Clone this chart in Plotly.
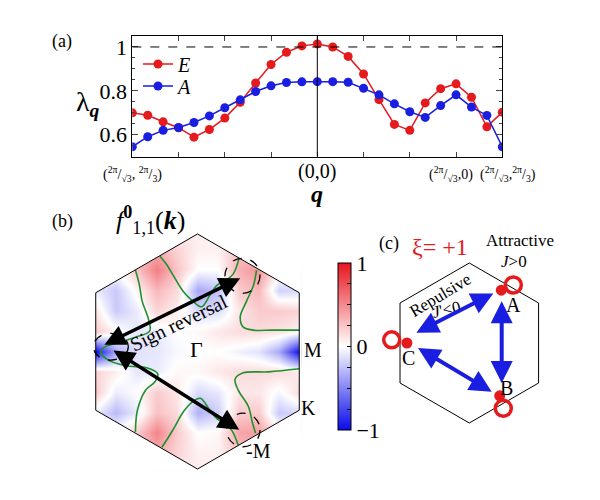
import plotly.graph_objects as go

## PANEL (a): eigenvalues along the q path ##

q_index = list(range(25))
lam_E = [0.700, 0.689, 0.659, 0.632, 0.589, 0.624, 0.676, 0.748, 0.836, 0.920, 0.976, 1.005, 1.014,
         1.000, 0.957, 0.877, 0.760, 0.647, 0.620, 0.745, 0.810, 0.832, 0.771, 0.636, 0.703]
lam_A = [0.545, 0.591, 0.620, 0.633, 0.656, 0.686, 0.723, 0.759, 0.797, 0.823, 0.838, 0.841, 0.842,
         0.842, 0.839, 0.812, 0.782, 0.741, 0.705, 0.679, 0.733, 0.782, 0.726, 0.688, 0.545]
q_tick_pos = [0, 12, 21, 24]
q_tick_text = ["(<sup>2π</sup>/<sub>√3</sub>, <sup>2π</sup>/<sub>3</sub>)",
               "(0,0)",
               "(<sup>2π</sup>/<sub>√3</sub>,0)",
               "(<sup>2π</sup>/<sub>√3</sub>,<sup>2π</sup>/<sub>3</sub>)"]

## PANEL (b): gap function f^0_11(k) on the BZ ##

kx_grid = [-1.0, -0.8, -0.6, -0.4, -0.2, 0.0, 0.2, 0.4, 0.6, 0.8, 1.0]
ky_grid = [-1.2, -1.0, -0.8, -0.6, -0.4, -0.2, 0.0, 0.2, 0.4, 0.6, 0.8, 1.0, 1.2]
f_grid = [
    [0.00, 0.00, 0.00, 0.05, 0.08, 0.08, 0.08, 0.05, 0.00, 0.00, 0.00],
    [0.00, 0.08, 0.22, 0.35, 0.18, 0.06, 0.06, 0.25, 0.30, 0.15, 0.00],
    [-0.08, 0.00, 0.22, 0.52, 0.22, 0.00, 0.03, 0.38, 0.42, 0.08, -0.08],
    [-0.08, -0.28, -0.08, 0.26, 0.15, -0.32, -0.20, 0.22, 0.22, -0.22, -0.15],
    [0.22, -0.08, 0.00, 0.22, 0.10, -0.15, -0.10, 0.10, 0.10, -0.04, 0.15],
    [0.18, 0.07, -0.10, -0.08, 0.03, 0.03, 0.10, 0.15, 0.15, 0.15, 0.08],
    [-1.00, -0.35, -0.12, -0.10, -0.03, 0.00, 0.00, -0.06, -0.12, -0.35, -1.00],
    [0.22, 0.04, -0.10, -0.08, 0.00, 0.03, 0.10, 0.15, 0.15, 0.12, 0.04],
    [0.10, -0.22, -0.08, 0.18, 0.07, -0.15, -0.15, 0.10, 0.22, 0.22, 0.18],
    [-0.08, -0.22, 0.04, 0.30, 0.15, -0.36, -0.26, 0.22, 0.30, -0.18, -0.15],
    [-0.08, 0.00, 0.25, 0.55, 0.25, 0.00, 0.00, 0.34, 0.45, 0.08, -0.08],
    [0.00, 0.08, 0.22, 0.35, 0.18, 0.06, 0.06, 0.25, 0.30, 0.15, 0.00],
    [0.00, 0.00, 0.00, 0.05, 0.08, 0.08, 0.08, 0.05, 0.00, 0.00, 0.00],
]

# Fermi surface (green), segments split by None
fs_x = [-0.61, -0.57, -0.545, -0.48, -0.47, -0.61, -0.77, -0.90, -0.95, -0.90, -0.71, -0.50, -0.39, -0.42, -0.51, -0.59, -0.61, None,
        -0.37, -0.30, -0.24, -0.14, -0.04, 0.04, 0.12, 0.19, 0.28, 0.35, 0.41, None,
        -0.35, -0.29, -0.23, -0.13, -0.03, 0.03, 0.11, 0.19, 0.28, 0.34, 0.40, None,
        0.58, 0.55, 0.48, 0.42, 0.45, 0.55, 0.73, 1.00, None,
        0.57, 0.54, 0.50, 0.40, 0.37, 0.45, 0.70, 1.00]
fs_y = [0.80, 0.65, 0.50, 0.31, 0.20, 0.14, 0.09, 0.05, 0.00, -0.07, -0.14, -0.16, -0.22, -0.30, -0.38, -0.575, -0.79, None,
        0.935, 0.85, 0.75, 0.59, 0.49, 0.44, 0.55, 0.65, 0.70, 0.76, 0.92, None,
        -0.94, -0.85, -0.75, -0.58, -0.48, -0.46, -0.56, -0.66, -0.72, -0.78, -0.92, None,
        0.80, 0.65, 0.49, 0.34, 0.24, 0.21, 0.21, 0.21, None,
        -0.80, -0.70, -0.54, -0.38, -0.27, -0.21, -0.20, -0.17]

## PANEL (c): sublattice diagram ##

node_x = [0.40, 0.38, -0.78]
node_y = [0.66, -0.66, 0.0]
node_names = ["A", "B", "C"]

SERIF = "Liberation Serif"
RED = "rgb(228,26,28)"
BLUE = "rgb(25,30,225)"

fig = go.Figure()

fig.add_trace(go.Scatter(x=q_index, y=lam_E, name="<i>E</i>", mode="lines+markers", legend="legend",
                         line=dict(color=RED, width=1.5), marker=dict(color=RED, size=9)))
fig.add_trace(go.Scatter(x=q_index, y=lam_A, name="<i>A</i>", mode="lines+markers", legend="legend2",
                         line=dict(color=BLUE, width=1.5), marker=dict(color=BLUE, size=9)))

cscale = [[0, "rgb(10,10,235)"], [0.5, "rgb(255,255,255)"], [1, "rgb(232,20,30)"]]
fig.add_trace(go.Heatmap(x=kx_grid, y=ky_grid, z=f_grid, zmin=-1, zmax=1, zsmooth="best",
                         colorscale=cscale, xaxis="x2", yaxis="y2", showlegend=False,
                         colorbar=dict(x=328 / 600, xanchor="left", y=1 - 346.5 / 500, yanchor="middle",
                                       len=187 / 500, thickness=13, outlinewidth=1, outlinecolor="black",
                                       tickvals=[-1, -0.75, -0.5, -0.25, 0, 0.25, 0.5, 0.75, 1],
                                       ticktext=["−1", "", "", "", "0", "", "", "", "1"],
                                       ticks="inside", ticklen=4, tickcolor="black",
                                       tickfont=dict(family=SERIF, size=22, color="black"))))
fig.add_trace(go.Scatter(x=fs_x, y=fs_y, mode="lines", xaxis="x2", yaxis="y2", showlegend=False,
                         line=dict(color="rgb(30,145,45)", width=1.6, shape="spline")))

fig.add_trace(go.Scatter(x=node_x, y=node_y, mode="markers", xaxis="x3", yaxis="y3", showlegend=False,
                         marker=dict(color=RED, size=11)))

shapes = []
# (a) dashed line at lambda=1 and vertical line at q=0
shapes.append(dict(type="line", xref="x", yref="y", x0=0, x1=24, y0=1, y1=1,
                   line=dict(color="black", width=1, dash="dash")))
shapes.append(dict(type="line", xref="x", yref="y", x0=12, x1=12, y0=0.5, y1=1.05,
                   line=dict(color="black", width=1)))
# (b) white masks outside the hexagon, hexagon outline, dashed circles
h = 0.57735
for s in (-1, 1):
    shapes.append(dict(type="path", xref="x2", yref="y2", layer="above", fillcolor="white",
                       line=dict(width=0),
                       path=f"M {s*1.3},1.4 L 0,1.4 L 0,{2*h} L {s},{h} L {s},{-h} L 0,{-2*h} L 0,-1.4 L {s*1.3},-1.4 Z"))
shapes.append(dict(type="path", xref="x2", yref="y2", layer="above", line=dict(color="black", width=1),
                   path=f"M -1,{h} L 0,{2*h} L 1,{h} L 1,{-h} L 0,{-2*h} L -1,{-h} Z"))
for cx, cy, rx, ry in [(-0.852, 0.047, 0.172, 0.131), (0.442, 0.744, 0.172, 0.172), (0.45, -0.771, 0.165, 0.165)]:
    shapes.append(dict(type="circle", xref="x2", yref="y2", layer="above",
                       x0=cx - rx, x1=cx + rx, y0=cy - ry, y1=cy + ry,
                       line=dict(color="black", width=1.3, dash="dash")))
# (c) hexagon and red loops
shapes.append(dict(type="path", xref="x3", yref="y3", line=dict(color="black", width=1),
                   path="M 0,1 L 0.866,0.5 L 0.866,-0.5 L 0,-1 L -0.866,-0.5 L -0.866,0.5 Z"))
for cx, cy in [(0.55, 0.725), (0.425, -0.816), (-0.97, 0.04)]:
    shapes.append(dict(type="circle", xref="x3", yref="y3", x0=cx - 0.1, x1=cx + 0.1,
                       y0=cy - 0.1, y1=cy + 0.1, line=dict(color=RED, width=3.5)))

ann = []


def txt(x, y, text, size=18, xref="paper", yref="paper", color="black", angle=0, xshift=0):
    if xref == "paper":
        x = x / 600
    if yref == "paper":
        y = 1 - y / 500
    ann.append(dict(x=x, y=y, xref=xref, yref=yref, text=text, showarrow=False, textangle=angle,
                    xanchor="center", yanchor="middle", xshift=xshift,
                    font=dict(family=SERIF, size=size, color=color)))


# (a) labels (paper positions given in pixels)
txt(62, 42, "(a)", 18)
txt(88, 104, "λ<sub><b><i>q</i></b></sub>", 28)
for pos, lab, dx in zip(q_tick_pos, q_tick_text, [0, 0, -5, 6]):
    if lab == "(0,0)":
        txt(pos, 171, lab, 20, xref="x")
    else:
        txt(pos, 174, lab, 14, xref="x", xshift=dx)
txt(12, 194, "<b><i>q</i></b>", 24, xref="x")

# (b) labels
txt(62, 222, "(b)", 18)
txt(150, 220, "<i>f</i><sup><b>0</b></sup><sub>1,1</sub>(<b><i>k</i></b>)", 26)
txt(-0.01, 0.015, "Γ", 22, xref="x2", yref="y2")
txt(-0.19, 0.28, "Sign reversal", 20, xref="x2", yref="y2", angle=-25.7)
txt(313, 350, "M", 20)
txt(308, 408, "K", 20)
txt(258, 451, "-M", 20)
for (x0, y0), (x1, y1) in [((-0.93, 0.06), (0.42, 0.72)), ((-0.84, 0.02), (0.41, -0.77))]:
    ann.append(dict(x=x1, y=y1, ax=x0, ay=y0, xref="x2", yref="y2", axref="x2", ayref="y2",
                    showarrow=True, arrowhead=2, arrowside="end+start", arrowsize=1.2,
                    arrowwidth=3.5, arrowcolor="black", text=""))

# (c) labels
txt(389, 243, "(c)", 18)
txt(440, 247, "ξ= +1", 24, color=RED)
txt(520, 240, "Attractive", 17)
txt(514, 261, "<i>J</i>>0", 17)
txt(-0.37, 0.6, "Repulsive", 17, xref="x3", yref="y3", angle=-31)
txt(-0.28, 0.42, "<i>J</i>'<0", 17, xref="x3", yref="y3", angle=-12)
for (nx, ny), nm in zip([(0.55, 0.475), (0.47, -0.56), (-0.76, -0.19)], node_names):
    txt(nx, ny, nm, 20, xref="x3", yref="y3")
for (x0, y0), (x1, y1) in [((0.405, 0.54), (0.405, -0.50)), ((-0.68, 0.12), (0.30, 0.62)),
                           ((-0.66, -0.05), (0.28, -0.61))]:
    ann.append(dict(x=x1, y=y1, ax=x0, ay=y0, xref="x3", yref="y3", axref="x3", ayref="y3",
                    showarrow=True, arrowhead=2, arrowside="end+start", arrowsize=1.1,
                    arrowwidth=4, arrowcolor=BLUE, text=""))

leg = dict(xanchor="left", yanchor="middle", bgcolor="rgba(0,0,0,0)",
           font=dict(family=SERIF, size=20), itemwidth=30)

fig.update_layout(
    width=600, height=500, margin=dict(l=0, r=0, t=0, b=0),
    paper_bgcolor="white", plot_bgcolor="white",
    font=dict(family=SERIF, size=18, color="black"),
    shapes=shapes, annotations=ann,
    legend=dict(x=138 / 600, y=1 - 64 / 500, **leg),
    legend2=dict(x=138 / 600, y=1 - 86 / 500, **leg),
    xaxis=dict(domain=[132.3 / 600, 502.3 / 600], range=[0, 24], tick0=0, dtick=3,
               ticks="inside", ticklen=5, showticklabels=False, showline=True, mirror="ticks",
               linecolor="black", linewidth=1, showgrid=False, zeroline=False),
    yaxis=dict(domain=[1 - 156.7 / 500, 1 - 36 / 500], range=[0.5, 1.05], tick0=0.6, dtick=0.2,
               ticks="inside", ticklen=6, showline=True, mirror="ticks", linecolor="black",
               linewidth=1, showgrid=False, zeroline=False, tickfont=dict(size=22),
               minor=dict(dtick=0.05, ticks="inside", ticklen=3, showgrid=False)),
    xaxis2=dict(domain=[93.7 / 600, 301.3 / 600], range=[-1.02, 1.02], visible=False),
    yaxis2=dict(domain=[1 - 471.4 / 500, 1 - 231.6 / 500], range=[-1.178, 1.178], visible=False),
    xaxis3=dict(domain=[373.3 / 600, 597.3 / 600], range=[-1.2, 1.6], visible=False),
    yaxis3=dict(domain=[1 - 439 / 500, 1 - 243 / 500], range=[-1.2, 1.25], visible=False),
)

fig.write_html("out.html", config={"displayModeBar": False},
               post_script="document.body.style.margin='0px';")
